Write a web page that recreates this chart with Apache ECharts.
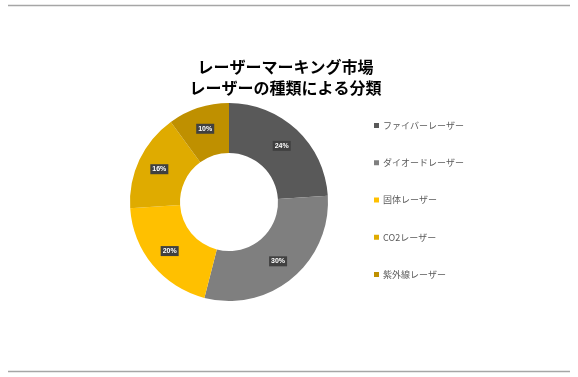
<!DOCTYPE html>
<html><head><meta charset="utf-8">
<script src="https://cdn.jsdelivr.net/npm/echarts@6/dist/echarts.min.js"></script>
<style>html,body{margin:0;padding:0;background:#fff}#c{width:578px;height:377px}</style>
</head><body><div id="c"></div>
<script>
const titleLines = ['レーザーマーキング市場', 'レーザーの種類による分類'];
const categories = ['ファイバーレーザー', 'ダイオードレーザー', '固体レーザー', 'CO2レーザー', '紫外線レーザー'];
const values = [24, 30, 20, 16, 10];
const colors = ['#595959', '#7f7f7f', '#ffc000', '#dfab00', '#bf9000'];

const chart = echarts.init(document.getElementById('c'));
chart.setOption({
  animation: false,
  title: {
    text: titleLines.join('\n'),
    left: 285.5, top: 56, textAlign: 'center', padding: 0,
    textStyle: {fontSize: 16, fontWeight: 'bold', color: '#000', lineHeight: 21, fontFamily: 'Noto Sans CJK JP'}
  },
  legend: {
    orient: 'vertical', left: 369, top: 116, itemGap: 28.25,
    itemWidth: 5, itemHeight: 5, icon: 'rect',
    data: categories,
    textStyle: {fontSize: 9, color: '#595959', fontFamily: 'Noto Sans CJK JP', padding: [0,0,0,-1]}
  },
  graphic: [
    {type: 'line', shape: {x1: 8, y1: 5.5, x2: 570, y2: 5.5}, style: {stroke: '#a6a6a6', lineWidth: 1.5}},
    {type: 'line', shape: {x1: 8, y1: 371.5, x2: 570, y2: 371.5}, style: {stroke: '#a6a6a6', lineWidth: 1.5}}
  ],
  series: [{
    type: 'pie',
    center: [229, 202],
    radius: [49, 99],
    startAngle: 90,
    clockwise: true,
    data: categories.map((n, i) => ({name: n, value: values[i], itemStyle: {color: colors[i]}})),
    label: {
      position: 'inside',
      formatter: p => p.value + '%',
      color: '#fff', fontSize: 7, fontWeight: 'bold',
      backgroundColor: '#404040', padding: [2, 2, 1, 2],
      fontFamily: 'Liberation Sans'
    },
    labelLine: {show: false},
    emphasis: {disabled: true}
  }]
});
</script></body></html>
